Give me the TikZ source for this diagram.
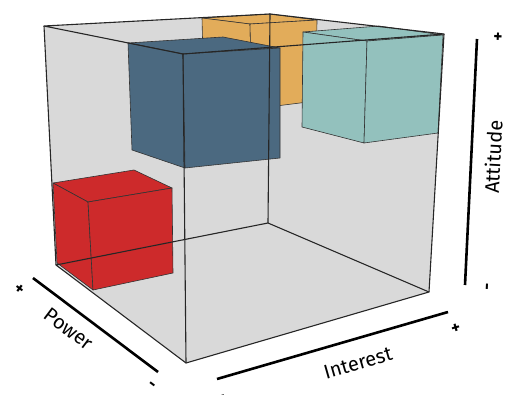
\documentclass[tikz,border=0pt]{standalone}
\usepackage{fontspec}
\setmainfont{Fira Sans}
\usepackage{xcolor}
\usepackage{tikz}
\usetikzlibrary{calc}

\definecolor{wallgrey}{RGB}{217,217,217}
\definecolor{powerred}{RGB}{205,42,43}
\definecolor{steelblue}{RGB}{75,105,128}
\definecolor{ochre}{RGB}{226,172,90}
\definecolor{seafoam}{RGB}{147,193,189}

\begin{document}
\begin{tikzpicture}[x=1pt,y=-1pt,
    outer/.style={draw=black!85,line width=1.1pt,line join=round},
    facet/.style={draw=black!80,line width=0.6pt,line join=round},
    axisline/.style={line width=2.6pt,line cap=butt},
    axislabel/.style={font=\fontsize{20}{24}\selectfont,inner sep=0pt},
    sign/.style={font=\fontsize{17}{18}\selectfont\bfseries,inner sep=0pt}]
  \useasboundingbox (0,0) rectangle (508,395);

  % big cube
  \coordinate (A) at (44,26);
  \coordinate (B) at (270,14);
  \coordinate (G) at (444,34);
  \coordinate (E) at (183,54);
  \coordinate (D) at (56,265);
  \coordinate (C) at (268,223);
  \coordinate (H) at (429,292);
  \coordinate (F) at (186,363);
  \fill[wallgrey] (A) -- (B) -- (G) -- (H) -- (F) -- (D) -- cycle;

  % orange cube (back)
  \coordinate (oA) at (202,18);
  \coordinate (oB) at (270,14);
  \coordinate (oG) at (317,20);
  \coordinate (oN) at (250,24);
  \coordinate (oAb) at (204,101);
  \coordinate (oNb) at (252,109);
  \coordinate (oGb) at (316,101);
  \filldraw[facet,fill=ochre] (oA) -- (oB) -- (oG) -- (oN) -- cycle;
  \filldraw[facet,fill=ochre] (oA) -- (oN) -- (oNb) -- (oAb) -- cycle;
  \filldraw[facet,fill=ochre] (oN) -- (oG) -- (oGb) -- (oNb) -- cycle;

  % blue cube
  \coordinate (bL) at (128,43);
  \coordinate (bB) at (223,37);
  \coordinate (bR) at (280,48);
  \coordinate (bN) at (183,54);
  \coordinate (bLb) at (132,150);
  \coordinate (bNb) at (185,168);
  \coordinate (bRb) at (280,158);
  \filldraw[facet,fill=steelblue] (bL) -- (bB) -- (bR) -- (bN) -- cycle;
  \filldraw[facet,fill=steelblue] (bL) -- (bN) -- (bNb) -- (bLb) -- cycle;
  \filldraw[facet,fill=steelblue] (bN) -- (bR) -- (bRb) -- (bNb) -- cycle;

  % teal cube
  \coordinate (tP) at (303,32);
  \coordinate (tB) at (379,26);
  \coordinate (tG) at (443,35);
  \coordinate (tN) at (367,41);
  \coordinate (tPb) at (302,127);
  \coordinate (tNb) at (364,143);
  \coordinate (tGb) at (438,133);
  \filldraw[facet,fill=seafoam] (tP) -- (tB) -- (tG) -- (tN) -- cycle;
  \filldraw[facet,fill=seafoam] (tP) -- (tN) -- (tNb) -- (tPb) -- cycle;
  \filldraw[facet,fill=seafoam] (tN) -- (tG) -- (tGb) -- (tNb) -- cycle;

  % red cube
  \coordinate (rL) at (53,183);
  \coordinate (rB) at (134,170);
  \coordinate (rR) at (172,188);
  \coordinate (rN) at (88,202);
  \coordinate (rLb) at (57,263);
  \coordinate (rNb) at (93,290);
  \coordinate (rRb) at (173,273);
  \filldraw[facet,fill=powerred] (rL) -- (rB) -- (rR) -- (rN) -- cycle;
  \filldraw[facet,fill=powerred] (rL) -- (rN) -- (rNb) -- (rLb) -- cycle;
  \filldraw[facet,fill=powerred] (rN) -- (rR) -- (rRb) -- (rNb) -- cycle;

  % edges of the big cube on top
  \draw[outer] (A) -- (B) -- (G) -- (E) -- cycle;
  \draw[outer] (D) -- (C) -- (H) -- (F) -- cycle;
  \draw[outer] (A) -- (D) (B) -- (C) (G) -- (H) (E) -- (F);

  % axes
  \coordinate (att1) at (465,285);
  \coordinate (att2) at (477,39);
  \coordinate (pow1) at (33,278);
  \coordinate (pow2) at (158,372);
  \coordinate (int1) at (217,379);
  \coordinate (int2) at (448,312);
  \draw[axisline] (att1) -- (att2);
  \draw[axisline] (pow1) -- (pow2);
  \draw[axisline] (int1) -- (int2);

  \node[axislabel,rotate=87] (attlabel) at (493,157) {Attitude};
  \node[axislabel,rotate=-37] (powlabel) at (69,329) {Power};
  \node[axislabel,rotate=16] (intlabel) at (358,363) {Interest};

  \node[sign,rotate=87] (attplus) at (499,37) {+};
  \node[sign,rotate=87] (attminus) at (489,287) {-};
  \node[sign,rotate=-37] (powplus) at (19,289) {+};
  \node[sign,rotate=-37] (powminus) at (151,386) {-};
  \node[sign,rotate=16] (intplus) at (456,329) {+};
  \node[sign,rotate=16] (intminus) at (222,398) {-};
\end{tikzpicture}
\end{document}
